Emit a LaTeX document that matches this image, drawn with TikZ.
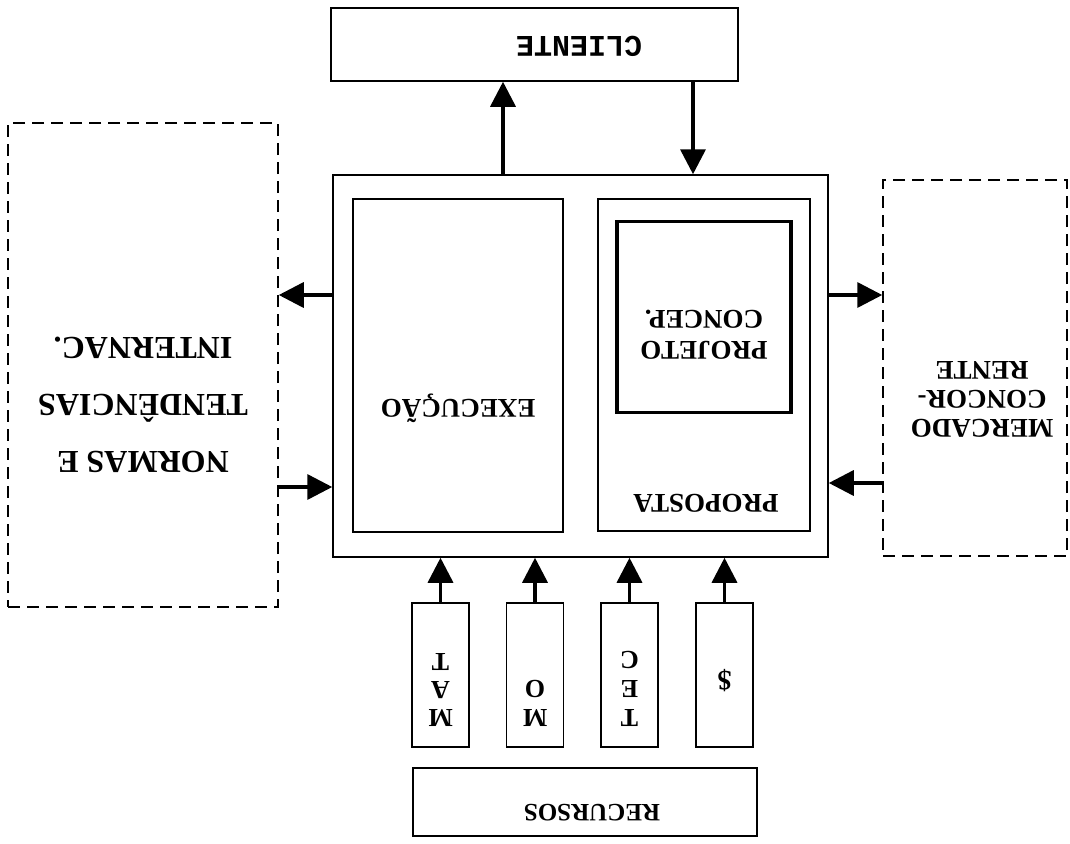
\documentclass[tikz,border=0pt]{standalone}
\usepackage{fontspec}
\setmainfont{Liberation Serif}
\setmonofont{Liberation Mono}
\usetikzlibrary{arrows.meta}

\tikzset{
  caixa/.style={draw, line width=1.5pt, inner sep=0pt},
  tracejada/.style={caixa, dash pattern=on 12pt off 7pt},
  seta/.style={-{Triangle[length=25pt,width=25pt]}, line width=3.5pt},
  rotulo/.style={rotate=180, align=center, inner sep=0pt}
}

\begin{document}
\begin{tikzpicture}[x=1pt, y=-1pt]
  \useasboundingbox (0,0) rectangle (1070,843);
  % caixas principais
  \node[caixa, minimum width=407pt, minimum height=73pt] (cliente) at (534.5,44.5) {};
  \node[caixa, minimum width=495pt, minimum height=382pt] (principal) at (580.5,366) {};
  \node[caixa, minimum width=210pt, minimum height=333pt] (execucao) at (458,365.5) {};
  \node[caixa, minimum width=212pt, minimum height=332pt] (proposta) at (704,365) {};
  \node[caixa, line width=3.5pt, minimum width=174pt, minimum height=191pt] (projeto) at (704,317) {};
  \node[tracejada, minimum width=270pt, minimum height=484pt] (normas) at (143,365) {};
  \node[tracejada, minimum width=184pt, minimum height=376pt] (mercado) at (975,368) {};
  \node[caixa, minimum width=344pt, minimum height=68pt] (recursos) at (585,802) {};
  % recursos
  \foreach \nome/\x in {mat/440.5, mo/535, tec/629.5, din/724.5}{
    \node[caixa, minimum width=57pt, minimum height=144pt] (\nome) at (\x,675) {};
  }
  % textos (de cabeça para baixo)
  \node[rotulo, font=\ttfamily\bfseries\fontsize{30}{32}\selectfont] (t-cliente) at (579,46) {CLIENTE};
  \node[rotulo, font=\bfseries\fontsize{32}{57}\selectfont] (t-normas) at (143,405) {NORMAS E\\TENDÊNCIAS\\INTERNAC.};
  \node[rotulo, font=\bfseries\fontsize{27}{29}\selectfont] (t-mercado) at (982,399) {MERCADO\\CONCOR-\\RENTE};
  \node[rotulo, font=\bfseries\fontsize{27}{30}\selectfont] (t-execucao) at (458,408) {EXECUÇÃO};
  \node[rotulo, font=\bfseries\fontsize{27}{31}\selectfont] (t-projeto) at (704,335) {PROJETO\\CONCEP.};
  \node[rotulo, font=\bfseries\fontsize{27}{30}\selectfont] (t-proposta) at (706,503) {PROPOSTA};
  \node[rotulo, font=\bfseries\fontsize{25}{28}\selectfont] (t-recursos) at (592,813) {RECURSOS};
  \node[rotulo, font=\bfseries\fontsize{26}{28}\selectfont] (t-mat) at (440.5,690) {M\\A\\T};
  \node[rotulo, font=\bfseries\fontsize{26}{29}\selectfont] (t-mo) at (535,703.5) {M\\O};
  \node[rotulo, font=\bfseries\fontsize{26}{29}\selectfont] (t-tec) at (629.5,688.5) {T\\E\\C};
  \node[rotulo, font=\bfseries\fontsize{28}{30}\selectfont] (t-din) at (724.5,681) {\$};
  % setas
  \coordinate (sa) at (503,0);
  \coordinate (sb) at (693,0);
  \coordinate (e1) at (0,295);
  \coordinate (e2) at (0,487);
  \coordinate (d2) at (0,483);
  \draw[seta] (principal.north -| sa) -- (cliente.south -| sa);
  \draw[seta] (cliente.south -| sb) -- (principal.north -| sb);
  \draw[seta] (principal.west |- e1) -- (normas.east |- e1);
  \draw[seta] (normas.east |- e2) -- (principal.west |- e2);
  \draw[seta] (principal.east |- e1) -- (mercado.west |- e1);
  \draw[seta] (mercado.west |- d2) -- (principal.east |- d2);
  \foreach \nome in {mat, mo, tec, din}{
    \draw[seta] (\nome.north) -- (\nome.north |- principal.south);
  }
\end{tikzpicture}
\end{document}
